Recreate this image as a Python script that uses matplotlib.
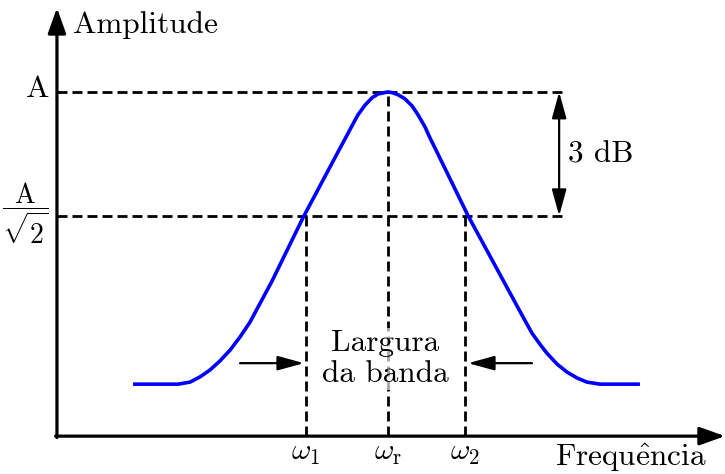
import matplotlib
matplotlib.use("Agg")
import matplotlib.pyplot as plt
import numpy as np

plt.rcParams['font.family'] = 'cmr10'
plt.rcParams['mathtext.fontset'] = 'cm'
plt.rcParams['lines.scale_dashes'] = False

# resonance curve, frequency in units of w_r, amplitude in units of A
freq = [0.230, 0.366, 0.402, 0.432, 0.462, 0.492, 0.523, 0.553, 0.583, 0.650,
        0.743, 0.852, 0.870, 0.891, 0.909, 0.931, 0.952, 0.970, 1.000,
        1.012, 1.030, 1.051, 1.073, 1.091, 1.112, 1.127, 1.142, 1.242, 1.408,
        1.435, 1.459, 1.480, 1.511, 1.541, 1.571, 1.601, 1.640, 1.761]
amp = [0.151, 0.151, 0.157, 0.172, 0.192, 0.218, 0.250, 0.288, 0.331, 0.451,
       0.634, 0.831, 0.863, 0.901, 0.933, 0.962, 0.983, 0.994, 1.000,
       0.998, 0.992, 0.980, 0.959, 0.933, 0.898, 0.866, 0.837, 0.640, 0.346,
       0.299, 0.267, 0.241, 0.209, 0.186, 0.169, 0.157, 0.151, 0.151]

amp_levels = [1.0, 0.640]
amp_labels = ['A', r'$\dfrac{\mathrm{A}}{\sqrt{2}}$']
label_sizes = [22.5, 20]
freq_marks = [0.752, 1.0, 1.233]
freq_labels = [r'$\omega_1$', r'$\omega_\mathrm{r}$', r'$\omega_2$']
level_ends = [1.535, 1.529]

fs = 22.5
dash = (7.2, 3.6)

fig = plt.figure(figsize=(7.25, 4.74), dpi=100)
ax = fig.add_axes([0, 0, 1, 1])
ax.set_xlim(-0.172, 2.018)
ax.set_ylim(-0.110, 1.267)
ax.axis('off')

# axes with arrow heads
head = '-|>,head_length=0.7,head_width=0.25'
ax.annotate('', xy=(2.018, 0), xytext=(-0.004, 0),
            arrowprops=dict(arrowstyle=head, lw=2.3, color='black',
                            shrinkA=0, shrinkB=0, mutation_scale=22))
ax.annotate('', xy=(0, 1.244), xytext=(0, -0.004),
            arrowprops=dict(arrowstyle=head, lw=2.3, color='black',
                            shrinkA=0, shrinkB=0, mutation_scale=22))

# reference levels
for lvl, end, lab, size in zip(amp_levels, level_ends, amp_labels, label_sizes):
    ax.plot([0, end], [lvl, lvl], color='black', lw=2.0, dashes=dash)
    ax.text(-0.024, lvl + 0.008, lab, ha='right', va='center', fontsize=size)

# verticals at w1, wr, w2
tops = [amp_levels[1], amp_levels[0], amp_levels[1]]
for f, top, lab in zip(freq_marks, tops, freq_labels):
    ax.plot([f, f], [0, top], color='black', lw=2.0, dashes=dash, zorder=1)
    ax.text(f, -0.010, lab, ha='center', va='top', fontsize=fs - 1)

ax.plot(freq, amp, color='#0000ff', lw=2.6, solid_capstyle='butt',
        solid_joinstyle='round', zorder=3)

# 3 dB marker
ax.annotate('', xy=(1.517, amp_levels[0]), xytext=(1.517, amp_levels[1]),
            arrowprops=dict(arrowstyle='<|-|>,head_length=0.8,head_width=0.22',
                            lw=1.6, color='black', shrinkA=0, shrinkB=0,
                            mutation_scale=20))
ax.text(1.544, 0.817, '3 dB', ha='left', va='center', fontsize=fs)

# bandwidth arrows and label
small = '-|>,head_length=0.8,head_width=0.22'
ax.annotate('', xy=(0.746, 0.212), xytext=(0.553, 0.212),
            arrowprops=dict(arrowstyle=small, lw=1.6, color='black',
                            shrinkA=0, shrinkB=0, mutation_scale=20))
ax.annotate('', xy=(1.242, 0.212), xytext=(1.435, 0.212),
            arrowprops=dict(arrowstyle=small, lw=1.6, color='black',
                            shrinkA=0, shrinkB=0, mutation_scale=20))
ax.text(0.991, 0.225, 'Largura\nda banda', ha='center', va='center',
        fontsize=fs, linespacing=1.15, zorder=2,
        bbox=dict(facecolor='white', edgecolor='none', alpha=0.65, pad=1))

ax.text(0.048, 1.172, 'Amplitude', ha='left', va='baseline', fontsize=fs)
ax.text(1.505, -0.087, r'$\mathrm{Frequ\hat{e}ncia}$', ha='left',
        va='baseline', fontsize=fs)

fig.savefig('out.png', dpi=100)
